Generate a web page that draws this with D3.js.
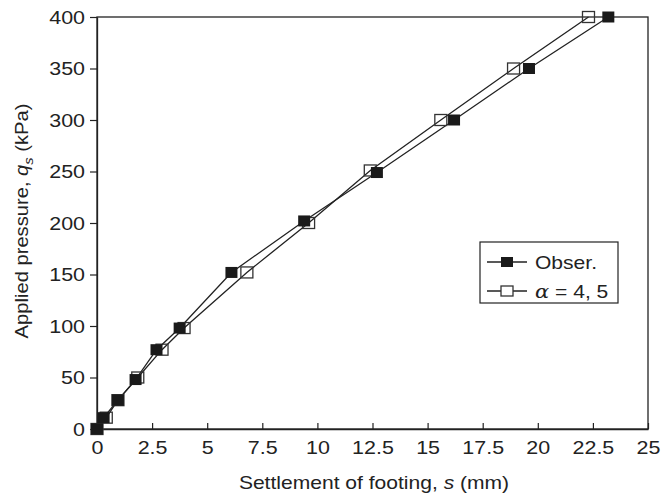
<!DOCTYPE html>
<html>
<head>
<meta charset="utf-8">
<script src="https://cdn.jsdelivr.net/npm/d3@7"></script>
<style>
  body { margin: 0; background: #fff; }
  svg text { font-family: "Liberation Sans", Arial, sans-serif; fill: #222; }
</style>
</head>
<body>
<div id="plot"></div>
<script>
// settlement (mm) and applied pressure (kPa)
var obsS = [0, 0.3, 0.95, 1.75, 2.7, 3.75, 6.1, 9.4, 12.7, 16.2, 19.6, 23.2];
var obsQ = [0, 11, 28, 48, 77, 98, 152, 202, 249, 300, 350, 400];
var alphaS = [0, 0.42, 0.95, 1.85, 2.95, 3.95, 6.8, 9.6, 12.4, 15.6, 18.9, 22.3];
var alphaQ = [0, 11, 28, 50, 77, 98, 152, 200, 251, 300, 350, 400];
var xTicks = [0, 2.5, 5, 7.5, 10, 12.5, 15, 17.5, 20, 22.5, 25];
var yTicks = [0, 50, 100, 150, 200, 250, 300, 350, 400];

var W = 661, H = 500;
var margin = { top: 17, left: 97, right: 13, bottom: 71 };
var w = W - margin.left - margin.right, h = H - margin.top - margin.bottom;
var ink = "#222";
var sx = 1.13; // the figure's lettering is a bit wider than Liberation Sans

var svg = d3.select("#plot").append("svg")
  .attr("width", W).attr("height", H);
var g = svg.append("g")
  .attr("transform", "translate(" + margin.left + "," + margin.top + ")");

var x = d3.scaleLinear().domain([0, 25]).range([0, w]);
var y = d3.scaleLinear().domain([0, 400]).range([h, 0]);

// frame
g.append("rect").attr("width", w).attr("height", h)
  .attr("fill", "none").attr("stroke", ink).attr("stroke-width", 1.3);

// x axis, ticks pointing in
var xa = g.append("g").attr("transform", "translate(0," + h + ")")
  .call(d3.axisBottom(x).tickValues(xTicks).tickSizeInner(-6).tickSizeOuter(0)
    .tickPadding(12).tickFormat(function(d){ return d; }));
// y axis, ticks pointing out
var ya = g.append("g")
  .call(d3.axisLeft(y).tickValues(yTicks).tickSizeInner(7).tickSizeOuter(0)
    .tickPadding(5));
[xa, ya].forEach(function(a){
  a.select(".domain").attr("stroke", ink).attr("stroke-width", 1.3);
  a.selectAll(".tick line").attr("stroke", ink).attr("stroke-width", 1.2);
  a.selectAll(".tick text").attr("font-size", 19)
    .style("font-family", "Liberation Sans, Arial, sans-serif").attr("fill", ink)
    .attr("x", function(){ return +d3.select(this).attr("x") / sx || 0; })
    .attr("transform", "scale(" + sx + ",1)");
});

// axis titles
svg.append("text").attr("transform", "translate(374,489) scale(1.17,1)")
  .attr("text-anchor", "middle").attr("font-size", 18)
  .html('Settlement of footing, <tspan font-style="italic">s</tspan> (mm)');

var yl = svg.append("text").attr("transform", "translate(28,221) rotate(-90) scale(1.12,1)")
  .attr("text-anchor", "middle").attr("font-size", 18);
yl.append("tspan").text("Applied pressure, ");
yl.append("tspan").attr("font-style", "italic").text("q");
yl.append("tspan").attr("font-style", "italic").attr("font-size", 13).attr("dy", 5).text("s");
yl.append("tspan").attr("dy", -5).text(" (kPa)");

var line = d3.line().x(function(d){ return x(d[0]); }).y(function(d){ return y(d[1]); });
var alphaPts = alphaS.map(function(s, i){ return [s, alphaQ[i]]; });
var obsPts = obsS.map(function(s, i){ return [s, obsQ[i]]; });

var sqW = 12, sqH = 11;

g.append("path").datum(alphaPts).attr("d", line)
  .attr("fill", "none").attr("stroke", ink).attr("stroke-width", 1.3);
g.append("path").datum(obsPts).attr("d", line)
  .attr("fill", "none").attr("stroke", ink).attr("stroke-width", 1.3);

g.selectAll(".alpha").data(alphaPts).enter().append("rect")
  .attr("class", "alpha")
  .attr("x", function(d){ return x(d[0]) - sqW / 2; })
  .attr("y", function(d){ return y(d[1]) - sqH / 2; })
  .attr("width", sqW).attr("height", sqH)
  .attr("fill", "none").attr("stroke", "#333").attr("stroke-width", 1.3);

g.selectAll(".obs").data(obsPts).enter().append("rect")
  .attr("class", "obs")
  .attr("x", function(d){ return x(d[0]) - sqW / 2; })
  .attr("y", function(d){ return y(d[1]) - sqH / 2; })
  .attr("width", sqW).attr("height", sqH)
  .attr("fill", "#1a1a1a");

// legend
var lg = svg.append("g").attr("transform", "translate(480,242)");
lg.append("rect").attr("width", 138).attr("height", 61)
  .attr("fill", "#fff").attr("stroke", ink).attr("stroke-width", 1.2);
[["Obser.", true], ["alpha", false]].forEach(function(e, i){
  var cy = 20 + i * 29;
  lg.append("line").attr("x1", 7).attr("x2", 47).attr("y1", cy).attr("y2", cy)
    .attr("stroke", ink).attr("stroke-width", 1.3);
  lg.append("rect").attr("x", 27 - sqW / 2).attr("y", cy - 5).attr("width", sqW).attr("height", 10)
    .attr("fill", e[1] ? "#1a1a1a" : "#fff").attr("stroke", e[1] ? "none" : "#333").attr("stroke-width", 1.3);
  var t = lg.append("text").attr("transform", "translate(55," + (cy + 7) + ") scale(1.17,1)")
    .attr("font-size", 18);
  if (e[1]) t.text(e[0]);
  else t.html('<tspan font-family="DejaVu Serif" font-style="italic">\u03b1</tspan> = 4, 5');
});
</script>
</body>
</html>
